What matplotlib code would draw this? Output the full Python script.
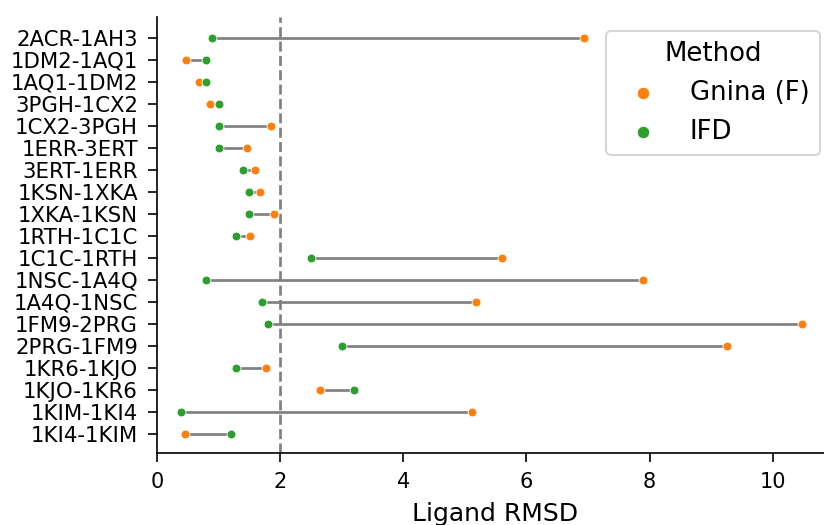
import numpy as np
import matplotlib.pyplot as plt

# Pares receptor-ligante (cross-docking) e RMSD do ligante por método
pairs = ['2ACR-1AH3', '1DM2-1AQ1', '1AQ1-1DM2', '3PGH-1CX2', '1CX2-3PGH',
         '1ERR-3ERT', '3ERT-1ERR', '1KSN-1XKA', '1XKA-1KSN', '1RTH-1C1C',
         '1C1C-1RTH', '1NSC-1A4Q', '1A4Q-1NSC', '1FM9-2PRG', '2PRG-1FM9',
         '1KR6-1KJO', '1KJO-1KR6', '1KIM-1KI4', '1KI4-1KIM']
gnina = [6.94, 0.47, 0.68, 0.86, 1.85,
         1.46, 1.60, 1.68, 1.90, 1.51,
         5.61, 7.90, 5.18, 10.48, 9.26,
         1.77, 2.65, 5.12, 0.45]
ifd = [0.89, 0.80, 0.80, 1.00, 1.00,
       1.00, 1.40, 1.49, 1.49, 1.29,
       2.50, 0.80, 1.70, 1.80, 3.00,
       1.29, 3.20, 0.39, 1.20]
cutoff = 2.0

y = np.arange(len(pairs))

fig = plt.figure(figsize=(8.24/1.5, 5.25/1.5), dpi=150)
ax = fig.add_axes([0.1905, 0.1377, 0.8204, 0.829])

# linha ligando os dois métodos em cada par
ax.hlines(y, np.minimum(gnina, ifd), np.maximum(gnina, ifd),
          color='grey', lw=1.3, zorder=1)
ax.scatter(gnina, y, s=18, color='#ff7f0e', edgecolor='white', lw=0.4,
           zorder=2, label='Gnina (F)')
ax.scatter(ifd, y, s=18, color='#2ca02c', edgecolor='white', lw=0.4,
           zorder=3, label='IFD')

# limiar de 2 Å
ax.axvline(cutoff, color='grey', ls='--', lw=1.3, zorder=0)

ax.set_yticks(y)
ax.set_yticklabels(pairs, fontsize=10.2)
ax.set_ylim(len(pairs) - 1 + 0.86, -0.91)
ax.set_xlim(0, 10.98)
ax.set_xticks([0, 2, 4, 6, 8, 10])
ax.tick_params(length=4.3, pad=4.8)
ax.set_xlabel('Ligand RMSD', fontsize=12, labelpad=5)

ax.spines['top'].set_visible(False)
ax.spines['right'].set_visible(False)

leg = ax.legend(title='Method', fontsize=12.5, title_fontsize=12.5,
                loc='upper right', markerscale=1.4)

fig.savefig('out.png', dpi=150)
